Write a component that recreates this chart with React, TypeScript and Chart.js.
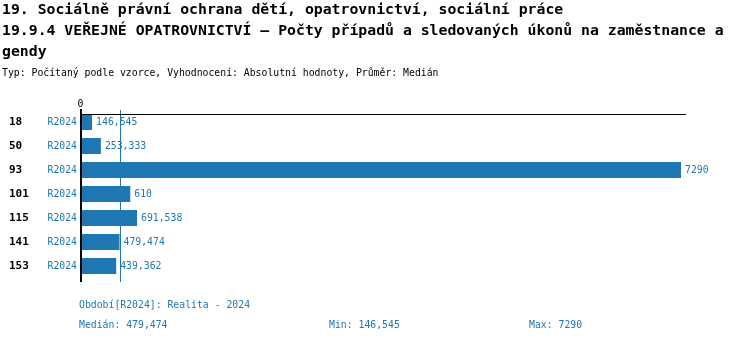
import React, { useEffect, useRef } from "react";
import { Chart, registerables } from "chart.js";

Chart.register(...registerables);

const categories = ["18", "50", "93", "101", "115", "141", "153"];
const periodLabels = ["R2024", "R2024", "R2024", "R2024", "R2024", "R2024", "R2024"];
const values = [146.545, 253.333, 7290, 610, 691.538, 479.474, 439.362];
const axisMax = 7290;

const titleLines = [
  "19. Sociálně právní ochrana dětí, opatrovnictví, sociální práce",
  "19.9.4 VEŘEJNÉ OPATROVNICTVÍ – Počty případů a sledovaných úkonů na zaměstnance a",
  "gendy",
];
const subtitle = "Typ: Počítaný podle vzorce, Vyhodnocení: Absolutní hodnoty, Průměr: Medián";
const periodNote = "Období[R2024]: Realita - 2024";

const BLUE = "#1f77b4";
const MONO = "'DejaVu Sans Mono', 'Liberation Mono', monospace";

const fmt = (n: number) => String(n).replace(".", ",");
const sorted = [...values].sort((a, b) => a - b);
const median = sorted[Math.floor(sorted.length / 2)];
const minV = sorted[0];
const maxV = sorted[sorted.length - 1];

const labelsPlugin = {
  id: "customLabels",
  beforeDatasetsDraw(chart: any) {
    const { ctx, chartArea, scales } = chart;
    const xm = Math.round(scales.x.getPixelForValue(median)) + 0.5;
    ctx.save();
    ctx.strokeStyle = BLUE;
    ctx.lineWidth = 1;
    ctx.beginPath();
    ctx.moveTo(xm, chartArea.top);
    ctx.lineTo(xm, chartArea.bottom + 4);
    ctx.stroke();
    ctx.restore();
  },
  afterDatasetsDraw(chart: any) {
    const { ctx, chartArea, scales } = chart;
    const x0 = scales.x.getPixelForValue(0);
    ctx.save();
    // top axis line
    ctx.strokeStyle = "#000";
    ctx.lineWidth = 1;
    ctx.beginPath();
    ctx.moveTo(x0, chartArea.top + 4.5);
    ctx.lineTo(chartArea.right + 5, chartArea.top + 4.5);
    ctx.stroke();
    // left axis line
    ctx.lineWidth = 2;
    ctx.beginPath();
    ctx.moveTo(x0 + 1, chartArea.top - 1);
    ctx.lineTo(x0 + 1, chartArea.bottom + 4);
    ctx.stroke();
    // zero tick label
    ctx.fillStyle = "#000";
    ctx.font = `9.8px ${MONO}`;
    ctx.textAlign = "center";
    ctx.textBaseline = "alphabetic";
    ctx.fillText("0", x0 + 0.5, chartArea.top - 3);

    const meta = chart.getDatasetMeta(0);
    meta.data.forEach((bar: any, i: number) => {
      const y = bar.y + 0.5;
      ctx.textBaseline = "middle";
      ctx.fillStyle = "#000";
      ctx.font = `bold 11px ${MONO}`;
      ctx.textAlign = "left";
      ctx.fillText(categories[i], 9, y);
      ctx.fillStyle = BLUE;
      ctx.font = `9.8px ${MONO}`;
      ctx.textAlign = "right";
      ctx.fillText(periodLabels[i], 77, y);
      ctx.textAlign = "left";
      ctx.fillText(fmt(values[i]), bar.x + 4, y);
    });
    ctx.restore();
  },
};

export default function App() {
  const ref = useRef<HTMLCanvasElement | null>(null);
  useEffect(() => {
    if (!ref.current) return;
    const chart = new Chart(ref.current, {
      type: "bar",
      data: {
        labels: categories,
        datasets: [
          {
            data: values,
            backgroundColor: BLUE,
            borderWidth: 0,
            barPercentage: 16 / 24,
            categoryPercentage: 1,
          },
        ],
      },
      options: {
        indexAxis: "y",
        responsive: false,
        animation: false,
        events: [],
        layout: { padding: { left: 80, right: 69, top: 110, bottom: 64 } },
        plugins: { legend: { display: false }, tooltip: { enabled: false } },
        scales: {
          x: { type: "linear", min: 0, max: axisMax, display: false },
          y: { type: "category", display: false },
        },
      },
      plugins: [labelsPlugin],
    } as any);
    return () => chart.destroy();
  }, []);

  const small: React.CSSProperties = {
    position: "absolute",
    fontFamily: MONO,
    fontSize: "9.8px",
    lineHeight: "12px",
    whiteSpace: "pre",
  };

  return (
    <div
      style={{
        position: "absolute",
        left: 0,
        top: 0,
        width: 750,
        height: 342,
        background: "#fff",
        overflow: "hidden",
      }}
    >
      <canvas ref={ref} width={750} height={342} style={{ position: "absolute", left: 0, top: 0 }} />
      <div
        style={{
          position: "absolute",
          left: 2,
          top: -2,
          fontFamily: MONO,
          fontWeight: "bold",
          fontSize: "14.8px",
          lineHeight: "21px",
          whiteSpace: "pre",
          color: "#000",
        }}
      >
        {titleLines.join("\n")}
      </div>
      <div style={{ ...small, left: 2, top: 67, color: "#000" }}>{subtitle}</div>
      <div style={{ ...small, left: 79, top: 299, color: BLUE }}>{periodNote}</div>
      <div style={{ ...small, left: 79, top: 319, color: BLUE }}>{"Medián: " + fmt(median)}</div>
      <div style={{ ...small, left: 329, top: 319, color: BLUE }}>{"Min: " + fmt(minV)}</div>
      <div style={{ ...small, left: 529, top: 319, color: BLUE }}>{"Max: " + fmt(maxV)}</div>
    </div>
  );
}
